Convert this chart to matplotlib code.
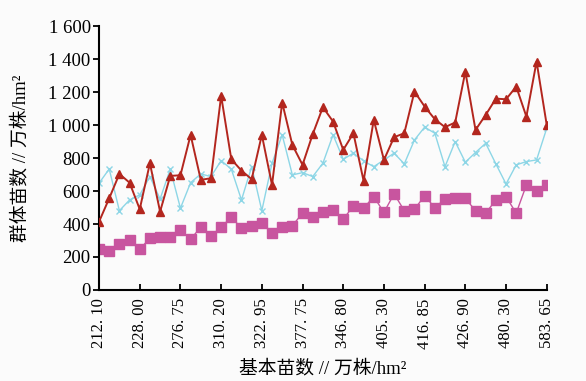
import numpy as np
import matplotlib.pyplot as plt

plt.rcParams['font.family'] = ['Liberation Serif', 'Noto Sans CJK SC']

# basic seedling labels shown on the x axis (every 4th sample)
tick_labels = ['212. 10', '228. 00', '276. 75', '310. 20', '322. 95', '377. 75',
               '346. 80', '405. 30', '416. 85', '426. 90', '480. 30', '583. 65']

# population seedling counts, 10^4 plants/hm2
red_vals = [414, 556, 704, 651, 490, 769, 475, 692, 696, 941, 668, 678, 1178,
            793, 724, 672, 941, 637, 1137, 880, 759, 945, 1109, 1022, 850, 951,
            662, 1032, 789, 927, 951, 1204, 1113, 1036, 988, 1016, 1325, 971,
            1062, 1161, 1157, 1234, 1052, 1386, 1001]
cyan_vals = [648, 734, 481, 546, 577, 688, 552, 733, 496, 651, 704, 688, 785,
             733, 546, 748, 481, 769, 941, 698, 712, 688, 769, 941, 793, 830,
             783, 748, 789, 830, 765, 910, 988, 951, 748, 900, 775, 834, 890,
             765, 643, 759, 779, 789, 981]
pink_vals = [247, 237, 279, 304, 247, 314, 324, 320, 364, 308, 381, 328, 381,
             441, 375, 390, 409, 344, 381, 390, 466, 441, 475, 486, 429, 510,
             496, 566, 471, 583, 481, 490, 571, 500, 550, 556, 556, 481, 466,
             546, 566, 466, 637, 603, 637]

x = np.arange(len(red_vals))

fig = plt.figure(figsize=(5.86, 3.81), dpi=100, facecolor='#fbfbfb')
ax = fig.add_axes([0.169, 0.239, 0.764, 0.692], facecolor='#fbfbfb')

ax.plot(x, cyan_vals, color='#8dd6e6', lw=1.0, marker='x', ms=4, mew=1.0, zorder=2)
ax.plot(x, red_vals, color='#b3261e', lw=1.4, marker='^', ms=6, zorder=3)
ax.plot(x, pink_vals, color='#c8559f', lw=1.0, marker='s', ms=6.5, zorder=2)

ax.set_xlim(0, len(x) - 1)
ax.set_ylim(0, 1600)

ax.set_xticks(x[::4])
ax.set_xticklabels(tick_labels, rotation=90, fontsize=12)
ax.tick_params(axis='x', direction='in', length=4, width=1.3, pad=6)

yt = np.arange(0, 1601, 200)
ax.set_yticks(yt)
ax.set_yticklabels([f'{v:,}'.replace(',', ' ') for v in yt], fontsize=13.5)
ax.tick_params(axis='y', direction='out', length=4, width=1.3, pad=2)

for side in ['top', 'right']:
    ax.spines[side].set_visible(False)
for side in ['left', 'bottom']:
    ax.spines[side].set_linewidth(1.5)

ax.set_xlabel('基本苗数 // 万株/hm²', fontsize=13.5, labelpad=8)
ax.set_ylabel('群体苗数 // 万株/hm²', fontsize=13.5, labelpad=14)

fig.savefig('out.png', dpi=100, facecolor=fig.get_facecolor())
